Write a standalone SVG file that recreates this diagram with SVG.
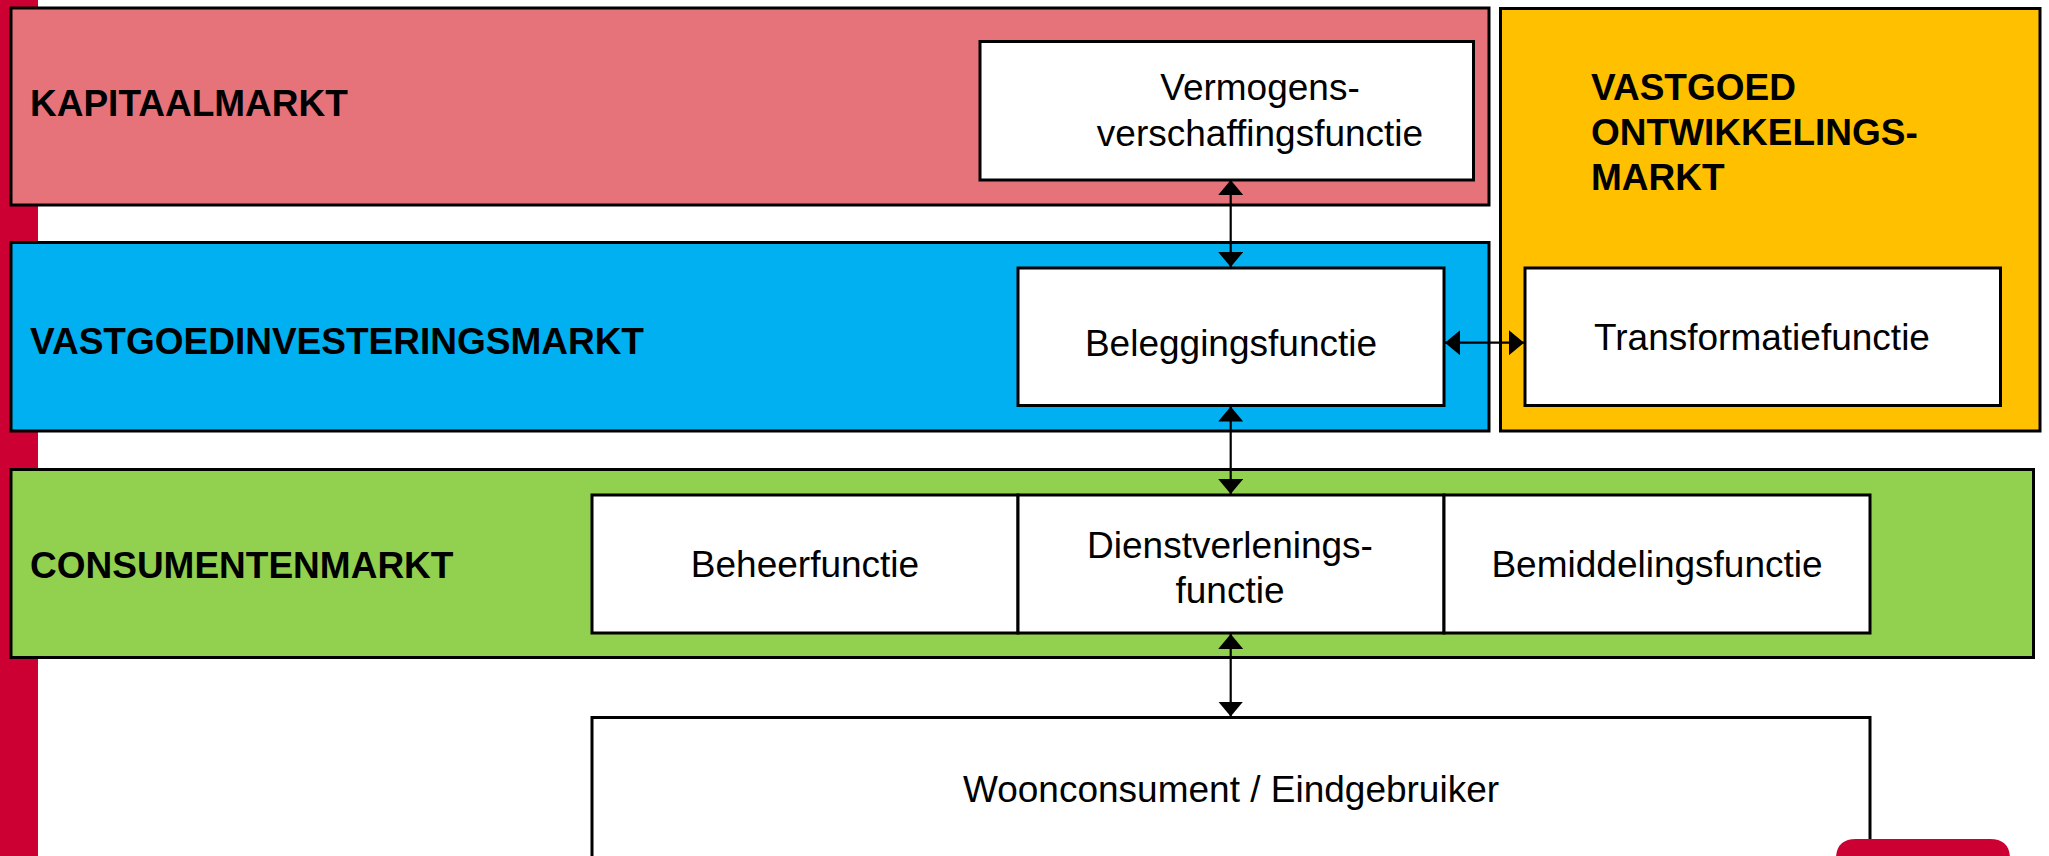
<svg xmlns="http://www.w3.org/2000/svg" width="2049" height="856" viewBox="0 0 2049 856">
  <style>
    .box { stroke: #000; stroke-width: 3; }
    .white { fill: #fff; }
    .lbl { font-family: "Liberation Sans", Arial, sans-serif; font-size: 37px; fill: #000; }
    .hd { font-family: "Liberation Sans", Arial, sans-serif; font-size: 37px; font-weight: bold; fill: #000; }
    .c { text-anchor: middle; }
    .conn { stroke: #000; stroke-width: 2.2; fill: none; marker-start: url(#ah); marker-end: url(#ah); }
  </style>
  <defs>
    <marker id="ah" viewBox="0 0 15 25" refX="15" refY="12.5" markerWidth="15" markerHeight="25" markerUnits="userSpaceOnUse" orient="auto-start-reverse">
      <path d="M0,0 L15,12.5 L0,25 z" fill="#000"/>
    </marker>
  </defs>
  <rect width="2049" height="856" fill="#fff"/>
  <rect id="sidebar" x="0" y="0" width="38" height="856" fill="#CC0033"/>

  <g id="kapitaalmarkt">
    <rect class="box" x="11" y="8" width="1478" height="197" fill="#E6737A"/>
    <text class="hd" x="30" y="116">KAPITAALMARKT</text>
  </g>
  <g id="vermogens">
    <rect class="box white" x="980" y="41.5" width="493.5" height="138.5"/>
    <text class="lbl c" x="1260" y="100">Vermogens-</text>
    <text class="lbl c" x="1260" y="145.5">verschaffingsfunctie</text>
  </g>

  <g id="vastgoedinvesteringsmarkt">
    <rect class="box" x="11" y="242.5" width="1478" height="188.5" fill="#00B0F0"/>
    <text class="hd" x="30" y="354">VASTGOEDINVESTERINGSMARKT</text>
  </g>
  <g id="beleggingsfunctie">
    <rect class="box white" x="1018" y="268" width="426" height="137.5"/>
    <text class="lbl c" x="1231" y="356">Beleggingsfunctie</text>
  </g>

  <g id="ontwikkelingsmarkt">
    <rect class="box" x="1500.5" y="8.5" width="539.5" height="422.5" fill="#FFC000"/>
    <text class="hd" x="1591" y="100">VASTGOED</text>
    <text class="hd" x="1591" y="145">ONTWIKKELINGS-</text>
    <text class="hd" x="1591" y="190">MARKT</text>
  </g>
  <g id="transformatiefunctie">
    <rect class="box white" x="1525" y="268" width="475.5" height="137.5"/>
    <text class="lbl c" x="1762" y="350">Transformatiefunctie</text>
  </g>

  <g id="consumentenmarkt">
    <rect class="box" x="11" y="469.5" width="2022.5" height="188" fill="#92D050"/>
    <text class="hd" x="30" y="578">CONSUMENTENMARKT</text>
  </g>
  <g id="beheerfunctie">
    <rect class="box white" x="592" y="495" width="426" height="138"/>
    <text class="lbl c" x="805" y="577">Beheerfunctie</text>
  </g>
  <g id="dienstverleningsfunctie">
    <rect class="box white" x="1018" y="495" width="426" height="138"/>
    <text class="lbl c" x="1230" y="558">Dienstverlenings-</text>
    <text class="lbl c" x="1230" y="603">functie</text>
  </g>
  <g id="bemiddelingsfunctie">
    <rect class="box white" x="1444" y="495" width="426" height="138"/>
    <text class="lbl c" x="1657" y="577">Bemiddelingsfunctie</text>
  </g>

  <g id="woonconsument">
    <rect class="box white" x="592" y="717.5" width="1278" height="160"/>
    <text class="lbl c" x="1231" y="802">Woonconsument / Eindgebruiker</text>
  </g>

  <g id="connectors">
    <line class="conn" x1="1230.7" y1="180" x2="1230.7" y2="267"/>
    <line class="conn" x1="1445" y1="342.7" x2="1524" y2="342.7"/>
    <line class="conn" x1="1230.7" y1="406.5" x2="1230.7" y2="494"/>
    <line class="conn" x1="1230.7" y1="634" x2="1230.7" y2="716.5"/>
  </g>

  <path id="corner-badge" d="M1836,880 L1836,859 Q1836,839 1856,839 L1990,839 Q2010,839 2010,859 L2010,880 z" fill="#CC0033"/>
</svg>
